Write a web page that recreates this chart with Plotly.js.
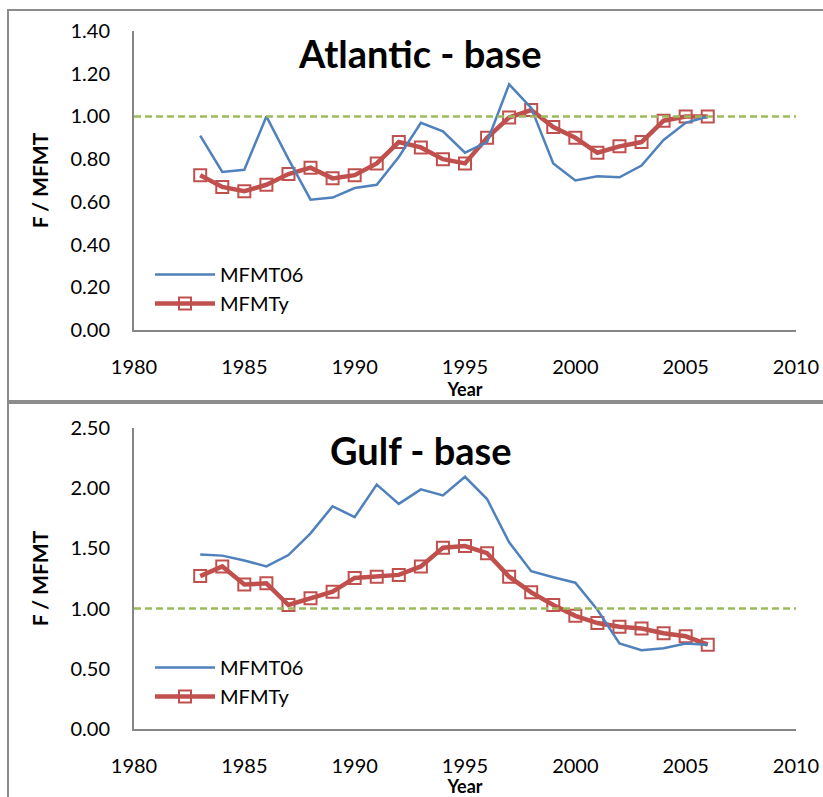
<!DOCTYPE html>
<html>
<head>
<meta charset="utf-8">
<script src="https://cdn.plot.ly/plotly-3.0.1.min.js"></script>
<style>html,body{margin:0;padding:0;background:#fff;}#chart{width:823px;height:797px;}</style>
</head>
<body>
<div id="chart"></div>
<script>
const years = [1983,1984,1985,1986,1987,1988,1989,1990,1991,1992,1993,1994,1995,1996,1997,1998,1999,2000,2001,2002,2003,2004,2005,2006];

const atlanticMFMT06 = [0.91,0.74,0.75,1.00,0.80,0.61,0.62,0.665,0.68,0.81,0.97,0.93,0.83,0.88,1.15,1.04,0.78,0.70,0.72,0.715,0.77,0.89,0.97,1.00];
const atlanticMFMTy  = [0.725,0.67,0.65,0.68,0.73,0.76,0.71,0.725,0.78,0.88,0.855,0.80,0.78,0.90,0.995,1.03,0.95,0.90,0.83,0.86,0.88,0.98,1.00,1.00];

const gulfMFMT06 = [1.45,1.44,1.40,1.35,1.445,1.625,1.85,1.76,2.03,1.87,1.99,1.94,2.095,1.91,1.55,1.31,1.26,1.215,0.99,0.71,0.655,0.67,0.71,0.70];
const gulfMFMTy  = [1.27,1.35,1.20,1.21,1.03,1.085,1.14,1.255,1.265,1.28,1.35,1.505,1.52,1.46,1.265,1.135,1.03,0.94,0.88,0.85,0.835,0.795,0.77,0.70];

const seriesNames = ['MFMT06','MFMTy'];
const panelTitles = ['Atlantic - base','Gulf - base'];
const xTicks = [1980,1985,1990,1995,2000,2005,2010];
const atlanticYTicks = [0,0.2,0.4,0.6,0.8,1.0,1.2,1.4];
const gulfYTicks = [0,0.5,1.0,1.5,2.0,2.5];
const referenceLevel = 1.0;

const W = 823, H = 797;
const FONT = 'Lato, "Open Sans", sans-serif';
const BLUE = '#4F81BD', RED = '#C0504D', GREEN = '#9BBB59', AXIS = '#868686';
const px = v => v / W;
const py = v => 1 - v / H;

function lineTrace(y, xa, ya, leg) {
  return {x: years, y: y, xaxis: xa, yaxis: ya, type: 'scatter', mode: 'lines',
    name: seriesNames[0], legend: leg, showlegend: true,
    line: {color: BLUE, width: 2.5}};
}
function markTrace(y, xa, ya, leg) {
  return {x: years, y: y, xaxis: xa, yaxis: ya, type: 'scatter', mode: 'lines+markers',
    name: seriesNames[1], legend: leg, showlegend: true,
    line: {color: RED, width: 4.5},
    marker: {symbol: 'square-open', size: 12, color: RED, line: {width: 2, color: RED}}};
}

// red drawn first so the blue line sits on top, as in the reference
const data = [
  markTrace(atlanticMFMTy, 'x', 'y', 'legend'),
  lineTrace(atlanticMFMT06, 'x', 'y', 'legend'),
  markTrace(gulfMFMTy, 'x2', 'y2', 'legend2'),
  lineTrace(gulfMFMT06, 'x2', 'y2', 'legend2')
];

function xAxis(anchor) {
  return {domain: [px(134), px(796)], range: [1980, 2010], anchor: anchor,
    tickvals: xTicks, ticktext: xTicks.map(String), showgrid: false, zeroline: false,
    showline: true, linecolor: AXIS, linewidth: 2,
    ticks: 'outside', ticklen: 18, tickcolor: 'rgba(0,0,0,0)',
    tickfont: {family: FONT, size: 20, color: '#000'},
    title: {text: '<b>Year</b>', font: {family: FONT, size: 18, color: '#000'}, standoff: 0}};
}
function yAxis(dom, range, ticks, anchor) {
  return {domain: dom, range: range, anchor: anchor,
    tickvals: ticks, ticktext: ticks.map(v => v.toFixed(2)), showgrid: false, zeroline: false,
    showline: true, linecolor: AXIS, linewidth: 2,
    ticks: 'outside', ticklen: 18, tickcolor: 'rgba(0,0,0,0)',
    tickfont: {family: FONT, size: 20, color: '#000'},
    title: {text: '<b>F / MFMT</b>', font: {family: FONT, size: 21, color: '#000'}, standoff: 16}};
}

const legendFont = {family: FONT, size: 20, color: '#000'};

const layout = {
  width: W, height: H, margin: {l: 0, r: 0, t: 0, b: 0},
  paper_bgcolor: '#fff', plot_bgcolor: 'rgba(0,0,0,0)',
  showlegend: true,
  xaxis: xAxis('y'),
  yaxis: yAxis([py(330), py(31)], [0, 1.4], atlanticYTicks, 'x'),
  xaxis2: xAxis('y2'),
  yaxis2: yAxis([py(729), py(428)], [0, 2.5], gulfYTicks, 'x2'),
  legend: {x: px(150), y: py(255), xanchor: 'left', yanchor: 'top', bgcolor: 'rgba(0,0,0,0)',
    font: legendFont, itemwidth: 60, tracegroupgap: 0, traceorder: 'reversed'},
  legend2: {x: px(150), y: py(648), xanchor: 'left', yanchor: 'top', bgcolor: 'rgba(0,0,0,0)',
    font: legendFont, itemwidth: 60, tracegroupgap: 0, traceorder: 'reversed'},
  shapes: [
    {type: 'line', xref: 'x', yref: 'y', x0: 1980, x1: 2010, y0: referenceLevel, y1: referenceLevel,
      line: {color: GREEN, width: 2.5, dash: '7px,4px'}, layer: 'above'},
    {type: 'line', xref: 'x2', yref: 'y2', x0: 1980, x1: 2010, y0: referenceLevel, y1: referenceLevel,
      line: {color: GREEN, width: 2.5, dash: '7px,4px'}, layer: 'above'},
    {type: 'rect', xref: 'paper', yref: 'paper', x0: px(8), x1: px(830), y0: py(401), y1: py(10),
      line: {color: '#8C8C8C', width: 2}},
    {type: 'rect', xref: 'paper', yref: 'paper', x0: px(8), x1: px(830), y0: py(805), y1: py(403),
      line: {color: '#8C8C8C', width: 2}}
  ],
  annotations: [
    {text: '<b>' + panelTitles[0] + '</b>', xref: 'paper', yref: 'paper', x: px(420), y: py(53),
      xanchor: 'center', yanchor: 'middle',
      showarrow: false, font: {family: FONT, size: 38, color: '#000'}},
    {text: '<b>' + panelTitles[1] + '</b>', xref: 'paper', yref: 'paper', x: px(421), y: py(450),
      xanchor: 'center', yanchor: 'middle',
      showarrow: false, font: {family: FONT, size: 38, color: '#000'}}
  ]
};

Plotly.newPlot('chart', data, layout, {displayModeBar: false, staticPlot: true});
</script>
</body>
</html>
